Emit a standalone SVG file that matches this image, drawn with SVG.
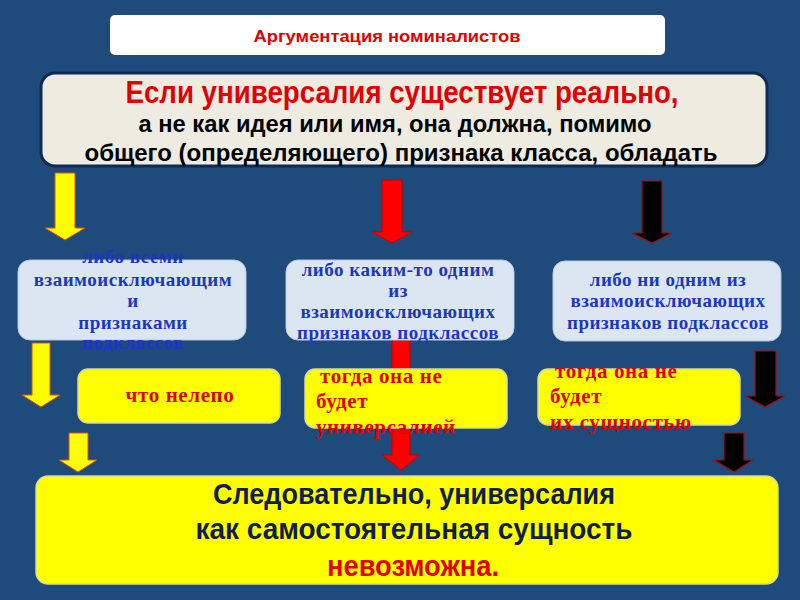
<svg xmlns="http://www.w3.org/2000/svg" width="800" height="600" viewBox="0 0 800 600">
<defs>
<style>
.nar{font-family:"Liberation Sans Narrow","Liberation Sans",Arial,sans-serif;font-weight:bold}
.ser{font-family:"Liberation Serif","Times New Roman",serif;font-weight:bold}
.blue{fill:#1B36C4;font-size:19px;letter-spacing:0.5px}
.red{fill:#E00000}
.rt{font-size:21px;letter-spacing:0.6px}
.lbox{fill:#DCE6F2;stroke:#B8C6DA;stroke-width:1}
.ybox{fill:#FFFF00;stroke:#D8D8A0;stroke-width:1.5}
.ya{fill:#FFFF00;stroke:#E05010;stroke-width:1}
.ra{fill:#FF0000;stroke:#C00000;stroke-width:1}
.ba{fill:#000000;stroke:#A01010;stroke-width:1.2}
</style>
</defs>
<rect x="0" y="0" width="800" height="600" fill="#1F4A7C"/>

<g id="title">
<rect x="110" y="15" width="555" height="40" rx="5" fill="#FFFFFF"/>
<text x="387" y="42" class="nar red" font-size="16" text-anchor="middle" textLength="267" lengthAdjust="spacingAndGlyphs">Аргументация номиналистов</text>
</g>

<g id="premise">
<rect x="41" y="73" width="726" height="93" rx="14" fill="#EEECE1" stroke="#0E2A55" stroke-width="3"/>
<text x="402" y="103" class="nar red" font-size="31" text-anchor="middle" textLength="553" lengthAdjust="spacingAndGlyphs">Если универсалия существует реально,</text>
<text x="395" y="132" class="nar" font-size="23" fill="#000" text-anchor="middle" textLength="513" lengthAdjust="spacingAndGlyphs">а не как идея или имя, она должна, помимо</text>
<text x="401" y="161" class="nar" font-size="23" fill="#000" text-anchor="middle" textLength="633" lengthAdjust="spacingAndGlyphs">общего (определяющего) признака класса, обладать</text>
</g>

<g id="connectors">
<polygon class="ya" points="55,173 75,173 75,228 85,228 65,240 45,228 55,228"/>
<polygon class="ra" points="382,180 402,180 402,232 412,232 392,243 372,232 382,232"/>
<polygon class="ba" points="642,181 662,181 662,233 672,233 652,243 632,233 642,233"/>
<polygon class="ya" points="32,343 50,343 50,395 60,395 41,407 22,395 32,395"/>
<polygon class="ra" points="392,340 410,340 410,455 420,455 401,470 382,455 392,455"/>
<polygon class="ba" points="755,351 776,351 776,396 785,396 765,407 745,396 755,396"/>
<polygon class="ya" points="69,433 88,433 88,460 97,460 78,472 59,460 69,460"/>
<polygon class="ba" points="724,433 744,433 744,460 753,460 734,472 714,460 724,460"/>
</g>

<g id="opt1">
<rect class="lbox" x="18" y="260" width="228" height="80" rx="12"/>
<text class="ser blue" text-anchor="middle"><tspan x="133" y="263">либо всеми</tspan><tspan x="133" y="286">взаимоисключающим</tspan><tspan x="133" y="307">и</tspan><tspan x="133" y="329">признаками</tspan><tspan x="133" y="349">подклассов</tspan></text>
</g>

<g id="opt2">
<rect class="lbox" x="286" y="260" width="228" height="80" rx="12"/>
<text class="ser blue" text-anchor="middle"><tspan x="398" y="276">либо каким-то одним</tspan><tspan x="398" y="297">из</tspan><tspan x="398" y="318">взаимоисключающих</tspan><tspan x="398" y="339">признаков подклассов</tspan></text>
</g>

<g id="opt3">
<rect class="lbox" x="553" y="261" width="228" height="80" rx="12"/>
<text class="ser blue" text-anchor="middle"><tspan x="668" y="286">либо ни одним из</tspan><tspan x="668" y="307">взаимоисключающих</tspan><tspan x="668" y="329">признаков подклассов</tspan></text>
</g>

<g id="res1">
<rect class="ybox" x="78" y="369" width="202" height="54" rx="10"/>
<text class="ser red rt" x="180" y="402" text-anchor="middle">что нелепо</text>
</g>

<g id="res2">
<rect class="ybox" x="305" y="369" width="202" height="59" rx="10"/>
<text class="ser red rt"><tspan x="320" y="383">тогда она не</tspan><tspan x="316" y="408">будет</tspan><tspan x="316" y="434">универсалией</tspan></text>
</g>

<g id="res3">
<rect class="ybox" x="538" y="369" width="202" height="56" rx="10"/>
<text class="ser red rt"><tspan x="555" y="378">тогда она не</tspan><tspan x="550" y="403">будет</tspan><tspan x="550" y="429">их сущностью</tspan></text>
</g>

<g id="conclusion">
<rect class="ybox" x="36" y="476" width="742" height="108" rx="12"/>
<text x="414" y="504" class="nar" font-size="29" fill="#0F1E4A" text-anchor="middle" textLength="402" lengthAdjust="spacingAndGlyphs">Следовательно, универсалия</text>
<text x="414" y="539" class="nar" font-size="29" fill="#0F1E4A" text-anchor="middle" textLength="437" lengthAdjust="spacingAndGlyphs">как самостоятельная сущность</text>
<text x="413" y="576" class="nar red" font-size="29" text-anchor="middle" textLength="172" lengthAdjust="spacingAndGlyphs">невозможна.</text>
</g>
</svg>
